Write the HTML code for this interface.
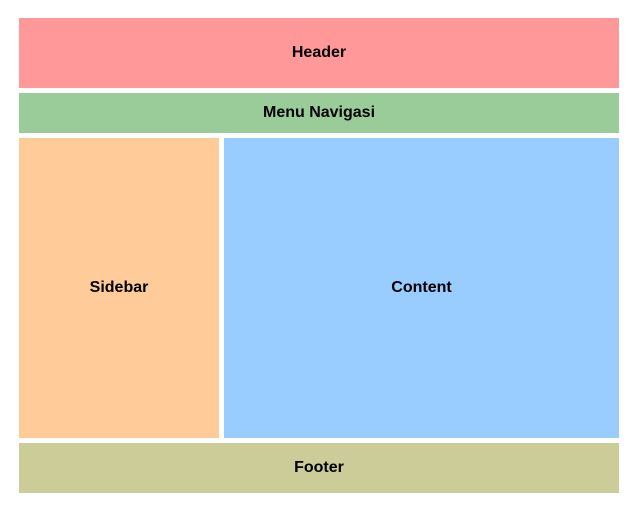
<!DOCTYPE html>
<html><head><meta charset="utf-8"><style>
body{margin:0;width:633px;height:514px;background:#fff;position:relative;font-family:"Liberation Sans",sans-serif;}
.b{position:absolute;display:flex;align-items:center;justify-content:center;font-weight:bold;font-size:16px;color:#000;}
</style></head><body>
<div class="b" style="left:19px;top:18px;width:600px;height:70px;background:#ff9999">Header</div>
<div class="b" style="left:19px;top:93px;width:600px;height:40px;background:#99cc99">Menu Navigasi</div>
<div class="b" style="left:19px;top:138px;width:200px;height:300px;background:#ffcc99">Sidebar</div>
<div class="b" style="left:224px;top:138px;width:395px;height:300px;background:#99ccff">Content</div>
<div class="b" style="left:19px;top:443px;width:600px;height:50px;background:#cccc99">Footer</div>
</body></html>
